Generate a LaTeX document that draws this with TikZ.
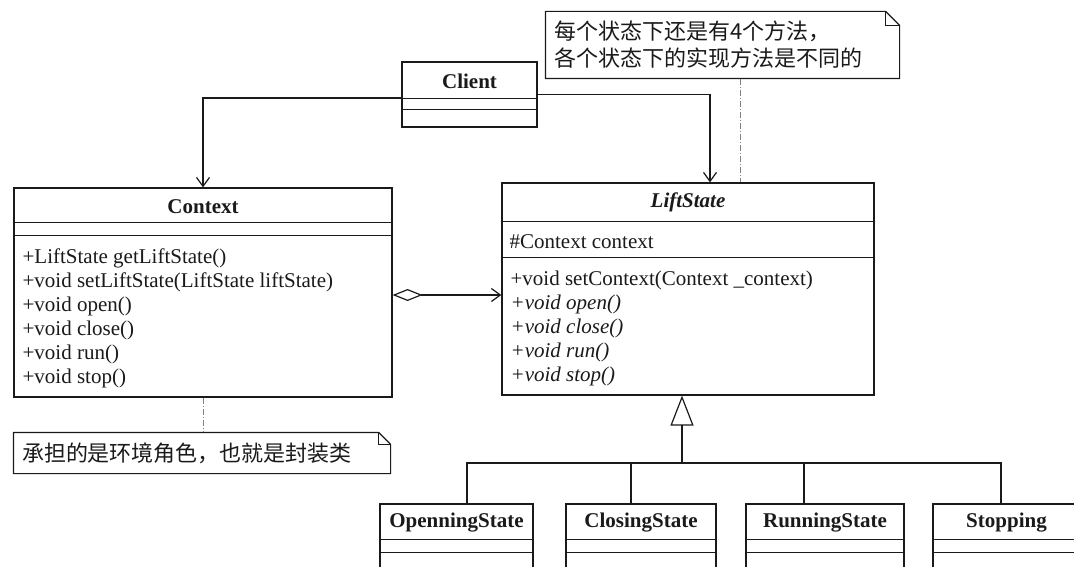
\documentclass[tikz,border=0pt]{standalone}
\usepackage{fontspec}
\setmainfont{Liberation Serif}
\newfontfamily\cjk{Noto Sans CJK SC}
\usepackage{tikz}
\usetikzlibrary{arrows.meta, calc}
\definecolor{ink}{HTML}{1a1a1a}
\definecolor{notegray}{HTML}{808080}

\begin{document}
\begin{tikzpicture}[x=1pt, y=-1pt, line width=1.2pt, color=ink,
    umlbox/.style={draw=ink, inner sep=0pt},
    umlname/.style={inner sep=0pt, font=\fontsize{21}{24}\selectfont\bfseries},
    member/.style={anchor=west, inner sep=0pt, font=\fontsize{21}{24}\selectfont},
    notebox/.style={inner sep=8pt, align=left, font=\cjk\fontsize{22}{27}\selectfont},
    assoc/.style={-{Straight Barb[length=9pt, width=13pt]}},
    aggr/.style={{Diamond[open, length=30pt, width=12pt]}-{Straight Barb[length=9pt, width=13pt]}},
    inherit/.style={-{Triangle[open, length=30pt, width=23pt]}},
    notelink/.style={notegray, line width=0.7pt, dash pattern=on 6pt off 2pt on 1pt off 2pt}]
    \fill[white, use as bounding box] (0,0) rectangle (1074,567);

    % --- Client ---
    \node[umlbox, minimum width=135pt, minimum height=65pt] (client) at (469.5,94.5) {};
    \node[umlname] (client-name) at ([yshift=-20pt]client.north) {Client};
    \draw ([yshift=-37pt]client.north west) -- ([yshift=-37pt]client.north east);
    \draw ([yshift=-48pt]client.north west) -- ([yshift=-48pt]client.north east);

    % --- Context ---
    \node[umlbox, minimum width=378pt, minimum height=209pt] (context) at (203,292.5) {};
    \node[umlname] (context-name) at ([yshift=-19pt]context.north) {Context};
    \draw ([yshift=-35pt]context.north west) -- ([yshift=-35pt]context.north east);
    \draw ([yshift=-48pt]context.north west) -- ([yshift=-48pt]context.north east);
    \foreach \op [count=\i] in {+LiftState getLiftState(), +void setLiftState(LiftState liftState),
        +void open(), +void close(), +void run(), +void stop()}
      \node[member] (context-op\i) at (22,{258+24*(\i-1)}) {\op};

    % --- LiftState (abstract) ---
    \node[umlbox, minimum width=372pt, minimum height=212pt] (liftstate) at (688,289) {};
    \node[umlname, font=\fontsize{21}{24}\selectfont\bfseries\itshape] (liftstate-name)
      at ([yshift=-20pt]liftstate.north) {LiftState};
    \draw ([yshift=-39pt]liftstate.north west) -- ([yshift=-39pt]liftstate.north east);
    \draw ([yshift=-75pt]liftstate.north west) -- ([yshift=-75pt]liftstate.north east);
    \node[member] (liftstate-attr) at (509,242) {\#Context context};
    \foreach \op [count=\i] in {+void setContext(Context \_context), \textit{+void open()},
        \textit{+void close()}, \textit{+void run()}, \textit{+void stop()}}
      \node[member] (liftstate-op\i) at (510,{280+24*(\i-1)}) {\op};

    % --- concrete states ---
    \foreach \s/\cx/\w/\label in {openning/456.5/153/OpenningState, closing/641/150/ClosingState,
        running/825/158/RunningState, stopping/1006.5/147/Stopping} {
      \node[umlbox, minimum width=\w pt, minimum height=75pt] (\s) at (\cx,541.5) {};
      \node[umlname] (\s-name) at ([yshift=-19pt]\s.north) {\label};
      \draw ([yshift=-36pt]\s.north west) -- ([yshift=-36pt]\s.north east);
      \draw ([yshift=-49pt]\s.north west) -- ([yshift=-49pt]\s.north east);
    }

    % --- notes ---
    \node[notebox, text width=337pt, minimum height=66pt] (statenote) at (722.5,45)
      {每个状态下还是有4个方法，\\各个状态下的实现方法是不同的};
    \node[notebox, text width=360pt, minimum height=40pt] (ctxnote) at (202,453)
      {承担的是环境角色，也就是封装类};
    \foreach \n/\f in {statenote/14, ctxnote/12} {
      \draw (\n.north west) -- ([xshift=-\f pt]\n.north east) -- ([yshift=-\f pt]\n.north east)
        -- (\n.south east) -- (\n.south west) -- cycle;
      \draw ([xshift=-\f pt]\n.north east) |- ([yshift=-\f pt]\n.north east);
    }

    % --- connectors ---
    \draw[assoc] ([yshift=-3.5pt]client.west) -| (context.north);
    \draw[assoc] (client.east) -| ([xshift=22pt]liftstate.north);
    \draw[aggr] ([yshift=-2.5pt]context.east) -- ([yshift=-2.5pt]context.east -| liftstate.west);
    \draw[notelink] ([xshift=17.5pt]statenote.south) -- ([xshift=17.5pt]statenote.south |- liftstate.north);
    \draw[notelink] (context.south) -- (context.south |- ctxnote.north);

    \coordinate (bus) at (682,463);
    \draw[inherit] (bus) -- (bus |- liftstate.south);
    \foreach \s/\dx in {openning/10.5, closing/-10, running/-21, stopping/-5.5}
      \draw ([xshift=\dx pt]\s.north) |- (bus);
  \end{tikzpicture}
\end{document}
